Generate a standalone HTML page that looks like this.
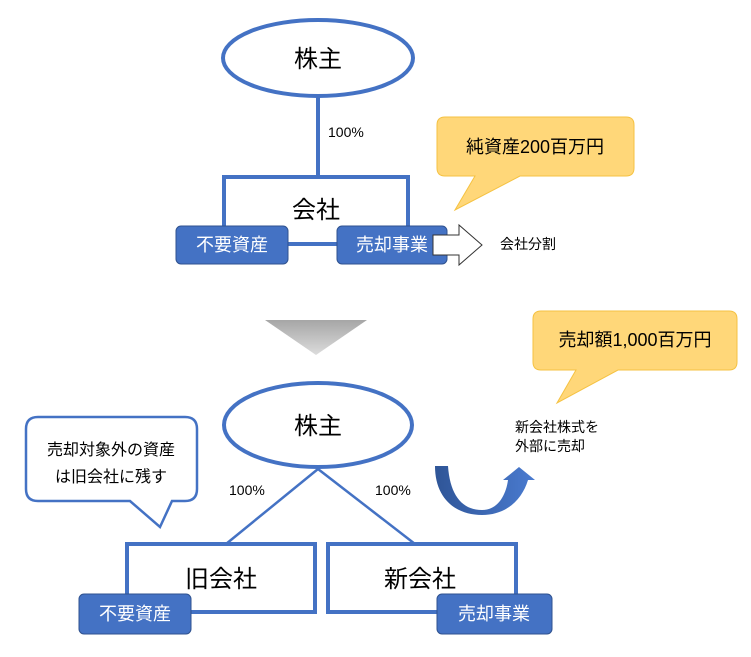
<!DOCTYPE html>
<html><head><meta charset="utf-8"><style>
html,body{margin:0;padding:0;background:#fff;}
svg{display:block;}
text{font-family:"Liberation Sans","Noto Sans CJK JP",sans-serif;}
</style></head><body>
<svg width="751" height="657" viewBox="0 0 751 657" xmlns="http://www.w3.org/2000/svg">
<defs>
<linearGradient id="g" x1="0" y1="0" x2="0" y2="1"><stop offset="0" stop-color="#a6a6a6"/><stop offset="1" stop-color="#dcdcdc"/></linearGradient>
<linearGradient id="c" x1="0" y1="0" x2="1" y2="0"><stop offset="0" stop-color="#2f5597"/><stop offset="1" stop-color="#4a7bd0"/></linearGradient>
</defs>
<!-- top -->
<ellipse cx="318" cy="58" rx="95" ry="38" fill="#fff" stroke="#4472c4" stroke-width="4"/>
<text x="318" y="67" font-size="24" text-anchor="middle">株主</text>
<line x1="318" y1="97" x2="318" y2="177" stroke="#4472c4" stroke-width="4"/>
<text x="328" y="137" font-size="14">100%</text>
<polyline points="224,232 224,177 408,177 408,232" fill="none" stroke="#4472c4" stroke-width="4"/>
<text x="316" y="218" font-size="24" text-anchor="middle">会社</text>
<line x1="288" y1="244" x2="337" y2="244" stroke="#4472c4" stroke-width="4"/>
<rect x="176" y="226" width="112" height="38" rx="5" fill="#4472c4" stroke="#2f528f" stroke-width="1"/>
<text x="232" y="251" font-size="18" fill="#fff" text-anchor="middle">不要資産</text>
<rect x="337" y="226" width="110" height="38" rx="5" fill="#4472c4" stroke="#2f528f" stroke-width="1"/>
<text x="392" y="251" font-size="18" fill="#fff" text-anchor="middle">売却事業</text>
<polygon points="433,235 459,235 459,225 482,245 459,265 459,255 433,255" fill="#fff" stroke="#333" stroke-width="1"/>
<text x="500" y="249" font-size="14">会社分割</text>
<path d="M445,117 H626 Q634,117 634,125 V168 Q634,176 626,176 H520 L455,210 L475,176 H445 Q437,176 437,168 V125 Q437,117 445,117 Z" fill="#ffd779" stroke="#f5c242" stroke-width="1"/>
<text x="535" y="153" font-size="18" text-anchor="middle">純資産200百万円</text>
<!-- triangle -->
<polygon points="265,320 367,320 316,355" fill="url(#g)"/>
<!-- bottom -->
<path d="M541,311 H729 Q737,311 737,319 V362 Q737,370 729,370 H618 L557,403 L576,370 H541 Q533,370 533,362 V319 Q533,311 541,311 Z" fill="#ffd779" stroke="#f5c242" stroke-width="1"/>
<text x="635" y="346" font-size="18" text-anchor="middle">売却額1,000百万円</text>
<ellipse cx="318" cy="425" rx="94" ry="42" fill="#fff" stroke="#4472c4" stroke-width="4"/>
<text x="318" y="434" font-size="24" text-anchor="middle">株主</text>
<line x1="318" y1="469" x2="226" y2="544" stroke="#4472c4" stroke-width="2.5"/>
<line x1="318" y1="469" x2="415" y2="544" stroke="#4472c4" stroke-width="2.5"/>
<text x="229" y="495" font-size="14">100%</text>
<text x="375" y="495" font-size="14">100%</text>
<rect x="127" y="544" width="188" height="68" fill="#fff" stroke="#4472c4" stroke-width="4"/>
<rect x="328" y="544" width="188" height="68" fill="#fff" stroke="#4472c4" stroke-width="4"/>
<text x="221" y="587" font-size="24" text-anchor="middle">旧会社</text>
<text x="420" y="587" font-size="24" text-anchor="middle">新会社</text>
<rect x="79" y="594" width="112" height="40" rx="5" fill="#4472c4" stroke="#2f528f" stroke-width="1"/>
<text x="135" y="620" font-size="18" fill="#fff" text-anchor="middle">不要資産</text>
<rect x="437" y="594" width="115" height="40" rx="5" fill="#4472c4" stroke="#2f528f" stroke-width="1"/>
<text x="494" y="620" font-size="18" fill="#fff" text-anchor="middle">売却事業</text>
<path d="M38,417 H185 Q197,417 197,429 V489 Q197,501 185,501 H172 L160,527 L130,501 H38 Q26,501 26,489 V429 Q26,417 38,417 Z" fill="#fff" stroke="#4472c4" stroke-width="2.5"/>
<text x="111" y="455" font-size="16" text-anchor="middle">売却対象外の資産</text>
<text x="111" y="482" font-size="16" text-anchor="middle">は旧会社に残す</text>
<path d="M435,466 H448 C450,495 462,510 482,510 C498,510 506,495 508,480 L503,480 L519,467 L535,480 L528,480 C522,500 506,515 482,515 C455,515 435,498 435,466 Z" fill="url(#c)"/>
<text x="515" y="432" font-size="14">新会社株式を</text>
<text x="515" y="451" font-size="14">外部に売却</text>
</svg>
</body></html>
